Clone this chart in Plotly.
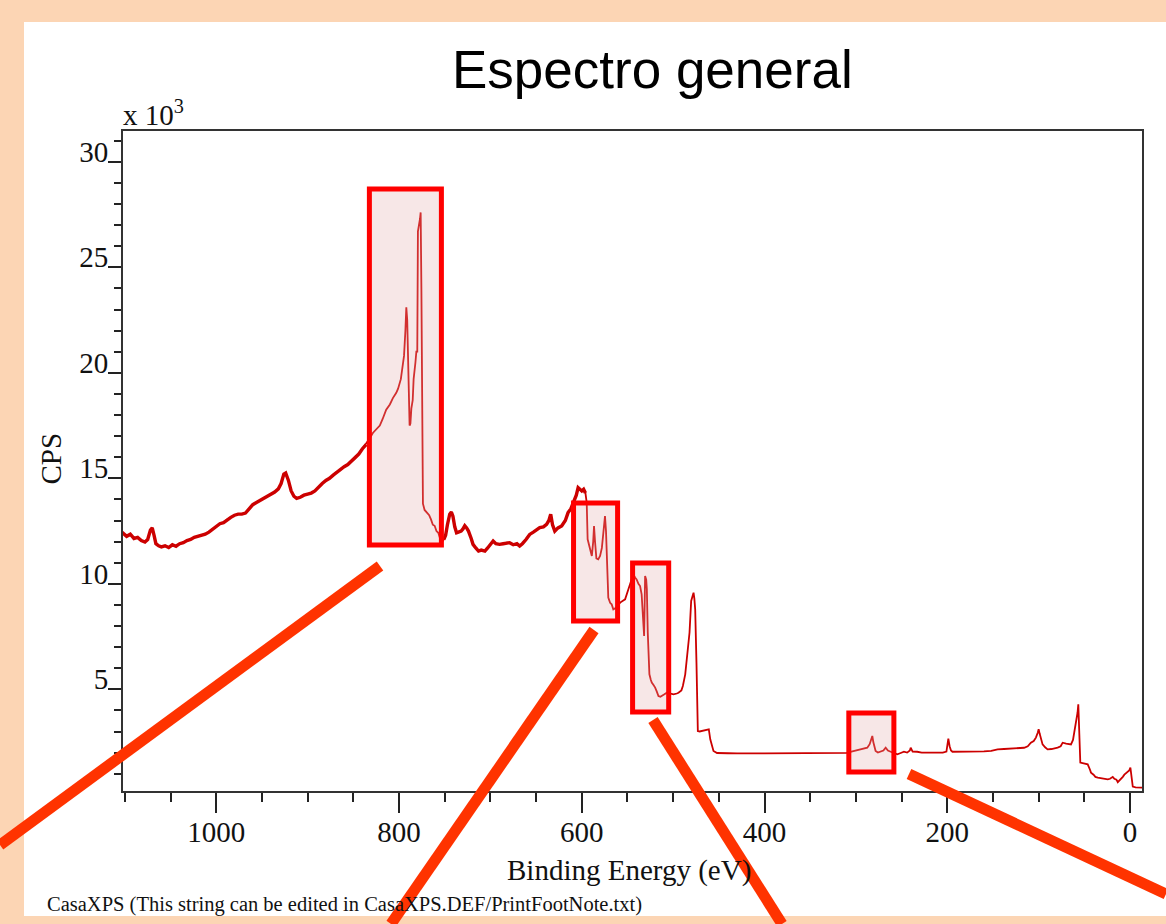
import plotly.graph_objects as go

# ---------------- data ----------------
energy = [1103, 1098, 1094, 1090, 1086, 1082, 1078, 1075, 1072, 1070, 1068, 1066, 1063, 1060, 1056,
          1052, 1048, 1044, 1040, 1036, 1032, 1028, 1024, 1020, 1016, 1012, 1008, 1004, 1000, 996,
          992, 988, 984, 980, 976, 972, 968, 964, 960, 956, 952, 948, 944, 940, 936, 932, 929, 926,
          924, 921, 918, 915, 912, 908, 904, 900, 896, 892, 888, 884, 880, 876, 872, 868, 864, 860,
          856, 852, 848, 844, 840, 836, 832, 828.6, 825, 821, 818, 814, 810, 806.7, 803, 801, 798,
          796, 794.5, 793, 792, 791, 790.2, 789, 788.4, 787.5, 786.5, 785, 784, 782, 781, 780,
          779.3, 777, 776.3, 775.5, 775, 774.5, 773.8, 772, 770, 767, 765, 763, 761, 759, 757, 755,
          753.6, 751, 749, 747, 744.5, 742.7, 741, 739, 737, 735, 732, 730, 728, 726, 724, 721, 719,
          716, 713, 710, 706, 703, 700, 697, 694, 690, 686, 682, 679, 675, 671, 668, 665, 661, 657,
          653, 649, 646, 642, 638.5, 636, 634, 632, 629.5, 626, 622, 618, 615, 612, 609, 606, 604,
          602, 600, 598, 596, 594.6, 593.6, 591, 589, 587.5, 586.6, 585.5, 584, 582, 580, 578,
          576.4, 574.6, 573.5, 572.7, 571.5, 571, 569, 567.3, 565.5, 563, 560, 558, 555, 552.6,
          549, 547, 545.4, 543.6, 541.7, 540, 538, 536.2, 534.5, 533.7, 532.5, 531.8, 531.2, 530.7,
          529.5, 528.8, 527.8, 526, 524.5, 523.4, 521.5, 519.7, 518, 516.1, 514, 512.4, 510, 507,
          503, 499.6, 496, 494.2, 491, 489.4, 486.8, 485.5, 484.3, 482.1, 480.3, 479, 477.7, 476.8,
          475.9, 474.5, 473.5, 473, 471, 468.7, 466, 463, 461, 459.4, 457.6, 455.9, 452, 445, 440,
          430, 420, 410, 400, 390, 380, 370, 360, 350, 340, 330, 320, 315, 310, 305, 300, 295, 290,
          287.6, 285, 283.5, 282.1, 281, 279.5, 278.5, 276, 273, 270, 267.5, 265, 262, 258, 254.7,
          251, 247.5, 244, 241, 240.1, 238, 233, 228, 222, 215, 210, 205, 201, 199.5, 198.9, 197.5,
          196, 194.4, 190, 180, 170, 160, 152, 145, 138, 130.5, 123, 116, 112, 108.6, 105.5, 103.1,
          101, 100.1, 99, 97.5, 95.8, 93, 90.3, 86, 82, 79.3, 76, 73.8, 70, 66, 64.7, 62.5, 61.1,
          59.2, 57.5, 56.7, 56.2, 55.9, 55.2, 54.5, 52, 49, 46.4, 44, 42.8, 40, 38, 35.4, 32, 29, 26,
          24.5, 22, 19, 17.2, 15, 13.5, 11, 8, 6.3, 3, 1, -0.3, -1.2, -1.8, -2.9, -6, -9, -12, -13]

cps = [12440, 12250, 12350, 12150, 12200, 12050, 11980, 12100, 12550, 12650, 12300, 11900, 11800,
       11750, 11800, 11720, 11850, 11780, 11900, 11950, 12050, 12100, 12200, 12250, 12300, 12350,
       12450, 12600, 12700, 12850, 12900, 13050, 13150, 13250, 13300, 13300, 13350, 13550, 13750,
       13850, 13950, 14050, 14150, 14250, 14350, 14500, 14750, 15200, 15250, 14900, 14400, 14150,
       14050, 14100, 14200, 14250, 14300, 14400, 14600, 14750, 14900, 15000, 15150, 15300, 15400,
       15550, 15650, 15800, 15950, 16150, 16400, 16600, 16900, 17150, 17300, 17500, 17800, 18250,
       18500, 18800, 19050, 19250, 19700, 20300, 20800, 22000, 23100, 22500, 20300, 18500, 17500,
       17600, 18300, 18700, 19700, 20500, 21000, 21000, 26700, 27300, 27600, 24000, 19300, 16000,
       13800, 13500, 13400, 13250, 13050, 12800, 12750, 12500, 12420, 12100, 11950, 12100, 12300,
       12800, 13300, 13400, 13200, 12700, 12420, 12450, 12500, 12600, 12750, 12650, 12500, 12150,
       11870, 11700, 11550, 11600, 11550, 11700, 11850, 12030, 11900, 11870, 11900, 11950, 11950,
       11850, 11900, 11790, 11900, 12100, 12340, 12450, 12550, 12660, 12700, 12820, 13000, 13300,
       12800, 12500, 12650, 12740, 13000, 13375, 13550, 13850, 14200, 14560, 14450, 14400, 14480,
       14300, 13850, 12110, 11700, 11320, 12000, 12740, 12000, 11200, 11160, 11320, 11700, 12500,
       13210, 12500, 11790, 10000, 9345, 9100, 9030, 8790, 8850, 9000, 9110, 9200, 9265, 9740,
       10000, 10290, 10450, 10300, 10210, 10000, 9895, 9500, 8710, 7800, 7525, 9000, 10370, 10200,
       9740, 7690, 5710, 5450, 5320, 5200, 5080, 4900, 4680, 4650, 4680, 4750, 4840, 4800, 4760,
       4800, 4840, 4950, 5155, 5710, 6200, 6660, 7690, 9185, 9450, 9580, 9300, 8790, 6265, 4000,
       3025, 3000, 3025, 3050, 3100, 3100, 2630, 2300, 2075, 1980, 1960, 1970, 1960, 1975, 1960,
       1965, 1970, 1960, 1975, 1970, 1965, 1980, 1985, 2000, 2010, 1990, 2050, 2100, 2150, 2200,
       2230, 2400, 2650, 2790, 2500, 2200, 2075, 2000, 2040, 2100, 2235, 2100, 2040, 1980, 1920,
       1980, 2040, 2000, 2100, 2235, 2050, 2040, 2000, 2000, 1990, 2010, 2000, 2050, 2400, 2660,
       2300, 2100, 2040, 2040, 2050, 2060, 2060, 2080, 2155, 2170, 2180, 2200, 2230, 2300, 2470,
       2550, 2710, 2950, 3105, 2900, 2600, 2390, 2250, 2155, 2170, 2200, 2235, 2300, 2470, 2430,
       2400, 2390, 2600, 2950, 3420, 3900, 4290, 3700, 2950, 2000, 1525, 1500, 1480, 1445, 1200,
       1050, 950, 850, 815, 800, 760, 740, 735, 760, 850, 760, 720, 600, 700, 850, 955, 1050, 1150,
       1290, 1000, 735, 390, 350, 340, 340, 340]

x_tick_vals = [1000, 800, 600, 400, 200, 0]
y_tick_vals = [5000, 10000, 15000, 20000, 25000, 30000]
y_tick_text = ["5", "10", "15", "20", "25", "30"]

# highlighted regions: binding-energy span and CPS span of each box
box_ev_high = [832.4, 609.0, 544.4, 307.8]
box_ev_low = [753.6, 560.8, 504.9, 258.5]
box_cps_high = [28710, 13830, 10990, 3880]
box_cps_low = [11840, 8240, 3920, 1080]

# noisy high-background stretches (drawn with a heavier stroke)
noisy_ranges = [(1103, 834), (753, 596)]

# ---------------- layout helpers ----------------
W, H = 1166, 924
L, R, T, B = 123, 1142, 131, 791


def pxx(x):
    return (x - L) / (R - L)


def pxy(y):
    return (B - y) / (B - T)


serif = "Liberation Serif, Times New Roman, serif"
sans = "Liberation Sans, Arial, sans-serif"

fig = go.Figure()
fig.add_trace(go.Scatter(x=energy, y=cps, mode="lines",
                         line=dict(color="#CC0000", width=1.8),
                         hoverinfo="skip", showlegend=False))
for hi, lo in noisy_ranges:
    idx = [i for i, e in enumerate(energy) if lo <= e <= hi]
    fig.add_trace(go.Scatter(x=[energy[i] for i in idx], y=[cps[i] for i in idx],
                             mode="lines", line=dict(color="#CC0000", width=3.4),
                             hoverinfo="skip", showlegend=False))

shapes = []
# white panel on peach background
shapes.append(dict(type="rect", xref="paper", yref="paper", layer="below",
                   x0=pxx(24), x1=pxx(1170), y0=pxy(916), y1=pxy(22),
                   fillcolor="white", line=dict(width=0)))
for e_hi, e_lo, c_hi, c_lo in zip(box_ev_high, box_ev_low, box_cps_high, box_cps_low):
    shapes.append(dict(type="rect", xref="x", yref="y", layer="above",
                       x0=e_hi, x1=e_lo, y0=c_lo, y1=c_hi,
                       fillcolor="rgba(228,170,170,0.28)",
                       line=dict(color="#FF0000", width=5)))
# call-out lines (pixel positions of the decoration)
callouts = [((380, 566), (0, 845)), ((594, 630), (391, 924)),
            ((653, 720), (782, 924)), ((909, 774), (1166, 894))]
for (xa, ya), (xb, yb) in callouts:
    shapes.append(dict(type="line", xref="paper", yref="paper", layer="above",
                       x0=pxx(xa), y0=pxy(ya), x1=pxx(xb), y1=pxy(yb),
                       line=dict(color="#FF3300", width=11)))

annotations = [
    dict(text="Espectro general", x=pxx(652), y=pxy(70), xref="paper", yref="paper",
         xanchor="center", yanchor="middle", showarrow=False,
         font=dict(family=sans, size=53, color="black")),
    dict(text="x 10<sup>3</sup>", x=pxx(121), y=pxy(133), xref="paper", yref="paper",
         xanchor="left", yanchor="bottom", showarrow=False,
         font=dict(family=serif, size=29, color="#111111")),
    dict(text="CPS", x=pxx(50.5), y=pxy(459), xref="paper", yref="paper",
         xanchor="center", yanchor="middle", showarrow=False, textangle=-90,
         font=dict(family=serif, size=29, color="#111111")),
    dict(text="Binding Energy (eV)", x=pxx(628.5), y=pxy(871), xref="paper", yref="paper",
         xanchor="center", yanchor="middle", showarrow=False,
         font=dict(family=serif, size=29, color="#111111")),
    dict(text="CasaXPS (This string can be edited in CasaXPS.DEF/PrintFootNote.txt)",
         x=pxx(44.6), y=pxy(904), xref="paper", yref="paper",
         xanchor="left", yanchor="middle", showarrow=False,
         font=dict(family=serif, size=20.5, color="#111111")),
]

fig.update_layout(
    width=W, height=H,
    margin=dict(l=L, r=W - R, t=T, b=H - B, pad=0),
    paper_bgcolor="#FCD5B4", plot_bgcolor="white",
    shapes=shapes, annotations=annotations,
    showlegend=False,
)
fig.update_xaxes(
    range=[1102, -13], autorange=False,
    tickmode="array", tickvals=x_tick_vals,
    ticks="outside", ticklen=20, tickwidth=2, tickcolor="#222222",
    ticklabelstandoff=-6,
    showline=True, linecolor="#333333", linewidth=2, mirror=True,
    showgrid=False, zeroline=False,
    tickfont=dict(family=serif, size=29, color="#111111"),
    minor=dict(tickmode="linear", tick0=0, dtick=50, ticks="outside",
               ticklen=9, tickwidth=2, tickcolor="#222222", showgrid=False),
)
fig.update_yaxes(
    range=[180, 31460], autorange=False,
    tickmode="array", tickvals=y_tick_vals, ticktext=y_tick_text,
    ticks="outside", ticklen=13, tickwidth=2, tickcolor="#222222",
    ticklabelshift=-10, ticklabelstandoff=-6,
    showline=True, linecolor="#333333", linewidth=2, mirror=True,
    showgrid=False, zeroline=False,
    tickfont=dict(family=serif, size=29, color="#111111"),
    minor=dict(tickmode="linear", tick0=0, dtick=1000, ticks="outside",
               ticklen=7, tickwidth=2, tickcolor="#222222", showgrid=False),
)

fig.write_html("out.html", config={"displayModeBar": False},
               post_script="document.body.style.margin='0px';")
